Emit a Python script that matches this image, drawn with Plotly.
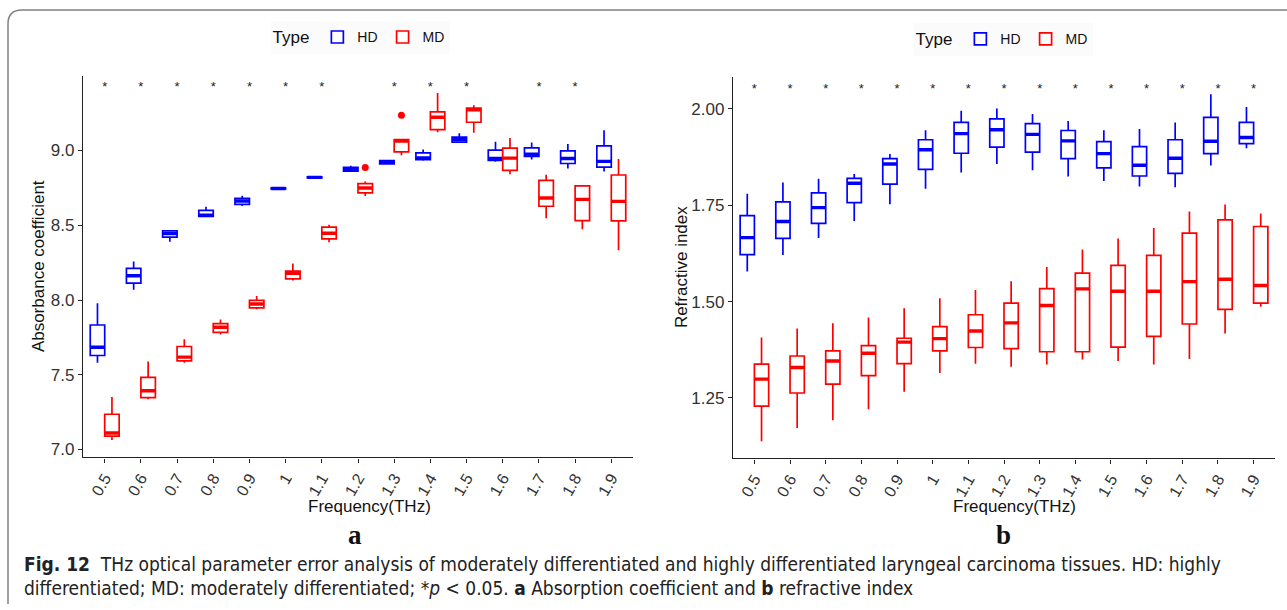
import plotly.graph_objects as go

W, H = 1287, 610

freqs = ["0.5", "0.6", "0.7", "0.8", "0.9", "1", "1.1", "1.2", "1.3", "1.4",
         "1.5", "1.6", "1.7", "1.8", "1.9"]

# ---- Panel a: absorbance coefficient  (lower whisker, q1, median, q3, upper whisker)
abs_hd_low = [7.580, 8.069, 8.389, 8.555, 8.629, 8.742, 8.816, 8.858, 8.904, 8.931, 9.053, 8.924, 8.940, 8.880, 8.860]
abs_hd_q1  = [7.629, 8.113, 8.420, 8.560, 8.640, 8.743, 8.817, 8.862, 8.911, 8.938, 9.056, 8.933, 8.960, 8.913, 8.889]
abs_hd_med = [7.684, 8.162, 8.444, 8.568, 8.662, 8.746, 8.820, 8.873, 8.922, 8.951, 9.073, 8.947, 8.975, 8.947, 8.927]
abs_hd_q3  = [7.833, 8.211, 8.462, 8.600, 8.680, 8.749, 8.823, 8.887, 8.933, 8.984, 9.089, 9.002, 9.018, 8.998, 9.031]
abs_hd_high = [7.978, 8.258, 8.469, 8.624, 8.698, 8.751, 8.825, 8.898, 8.936, 9.007, 9.116, 9.058, 9.053, 9.044, 9.136]

abs_md_low = [7.064, 7.336, 7.580, 7.769, 7.938, 8.131, 8.387, 8.696, 8.969, 9.122, 9.118, 8.842, 8.547, 8.473, 8.333]
abs_md_q1  = [7.089, 7.347, 7.593, 7.784, 7.947, 8.142, 8.409, 8.716, 8.991, 9.140, 9.189, 8.867, 8.627, 8.531, 8.529]
abs_md_med = [7.111, 7.393, 7.618, 7.818, 7.973, 8.178, 8.447, 8.749, 9.064, 9.222, 9.273, 8.949, 8.682, 8.673, 8.660]
abs_md_q3  = [7.236, 7.482, 7.689, 7.842, 7.998, 8.193, 8.487, 8.778, 9.073, 9.258, 9.284, 9.016, 8.800, 8.764, 8.836]
abs_md_high = [7.351, 7.589, 7.738, 7.869, 8.027, 8.244, 8.504, 8.793, 9.076, 9.384, 9.302, 9.084, 8.838, 8.767, 8.944]

abs_md_outlier_freq = ["1.2", "1.3"]
abs_md_outlier_val = [8.887, 9.236]

abs_sig = ["0.5", "0.6", "0.7", "0.8", "0.9", "1", "1.1", "1.3", "1.4", "1.5", "1.7", "1.8"]
abs_star_y = 9.42

# ---- Panel b: refractive index
ri_hd_low = [1.578, 1.621, 1.665, 1.709, 1.753, 1.793, 1.835, 1.857, 1.841, 1.825, 1.813, 1.799, 1.797, 1.853, 1.898]
ri_hd_q1  = [1.622, 1.664, 1.703, 1.757, 1.805, 1.843, 1.885, 1.901, 1.888, 1.871, 1.847, 1.826, 1.833, 1.884, 1.910]
ri_hd_med = [1.666, 1.708, 1.744, 1.807, 1.857, 1.894, 1.936, 1.946, 1.934, 1.917, 1.884, 1.854, 1.872, 1.916, 1.926]
ri_hd_q3  = [1.723, 1.759, 1.782, 1.820, 1.871, 1.920, 1.965, 1.974, 1.962, 1.944, 1.915, 1.902, 1.920, 1.978, 1.965]
ri_hd_high = [1.780, 1.809, 1.819, 1.831, 1.883, 1.945, 1.995, 2.001, 1.987, 1.969, 1.945, 1.948, 1.965, 2.038, 2.005]

ri_md_low = [1.138, 1.172, 1.192, 1.221, 1.266, 1.315, 1.339, 1.331, 1.337, 1.350, 1.346, 1.337, 1.351, 1.417, 1.487]
ri_md_q1  = [1.229, 1.263, 1.286, 1.308, 1.339, 1.372, 1.381, 1.378, 1.370, 1.370, 1.382, 1.410, 1.442, 1.480, 1.496]
ri_md_med = [1.299, 1.329, 1.346, 1.366, 1.395, 1.404, 1.424, 1.445, 1.490, 1.533, 1.527, 1.527, 1.552, 1.558, 1.542]
ri_md_q3  = [1.338, 1.359, 1.372, 1.386, 1.405, 1.435, 1.466, 1.496, 1.534, 1.574, 1.594, 1.620, 1.678, 1.712, 1.695]
ri_md_high = [1.407, 1.430, 1.444, 1.459, 1.483, 1.509, 1.530, 1.553, 1.590, 1.635, 1.664, 1.691, 1.734, 1.752, 1.729]

ri_sig = freqs[:]
ri_star_y = 2.051

HD_COLOR = "#0000FF"
MD_COLOR = "#FF0000"
FONT = "Liberation Sans, Arial, sans-serif"
CAPTION_FONT = "Liberation Sans Narrow, Arial Narrow, DejaVu Sans Condensed, sans-serif"


def px(x):
    return x / W


def py(y):
    return 1 - y / H


fig = go.Figure()


def add_series(xa, ya, low, q1, med, q3, high, color, name, offset, legend):
    xs = [i + offset for i in range(len(freqs))]
    fig.add_trace(go.Box(
        x=xs, q1=q1, median=med, q3=q3, lowerfence=low, upperfence=high,
        orientation="v", width=0.4, whiskerwidth=0, boxpoints=False,
        line=dict(color=color, width=1.7), fillcolor="white",
        name=name, legend=legend, showlegend=True,
        xaxis=xa, yaxis=ya, hoverinfo="skip"))
    # thick median bar (ggplot "fatten")
    fig.add_trace(go.Box(
        x=xs, q1=med, median=med, q3=med, lowerfence=med, upperfence=med,
        orientation="v", width=0.4, whiskerwidth=0, boxpoints=False,
        line=dict(color=color, width=3.4), fillcolor=color,
        showlegend=False, xaxis=xa, yaxis=ya, hoverinfo="skip"))


add_series("x", "y", abs_hd_low, abs_hd_q1, abs_hd_med, abs_hd_q3, abs_hd_high, HD_COLOR, "HD", -0.2, "legend")
add_series("x", "y", abs_md_low, abs_md_q1, abs_md_med, abs_md_q3, abs_md_high, MD_COLOR, "MD", 0.2, "legend")
add_series("x2", "y2", ri_hd_low, ri_hd_q1, ri_hd_med, ri_hd_q3, ri_hd_high, HD_COLOR, "HD", -0.2, "legend2")
add_series("x2", "y2", ri_md_low, ri_md_q1, ri_md_med, ri_md_q3, ri_md_high, MD_COLOR, "MD", 0.2, "legend2")

# outliers
fig.add_trace(go.Scatter(
    x=[freqs.index(f) + 0.2 for f in abs_md_outlier_freq], y=abs_md_outlier_val,
    mode="markers", marker=dict(color=MD_COLOR, size=7), showlegend=False,
    xaxis="x", yaxis="y", hoverinfo="skip"))

# significance stars
fig.add_trace(go.Scatter(
    x=[freqs.index(f) for f in abs_sig], y=[abs_star_y] * len(abs_sig),
    mode="text", text=["*"] * len(abs_sig),
    textfont=dict(size=13, color="#222222", family=FONT),
    showlegend=False, xaxis="x", yaxis="y", hoverinfo="skip"))
fig.add_trace(go.Scatter(
    x=[freqs.index(f) for f in ri_sig], y=[ri_star_y] * len(ri_sig),
    mode="text", text=["*"] * len(ri_sig),
    textfont=dict(size=13, color="#222222", family=FONT),
    showlegend=False, xaxis="x2", yaxis="y2", hoverinfo="skip"))

xcommon = dict(
    range=[-0.6, 14.6], tickmode="array", tickvals=list(range(len(freqs))), ticktext=freqs,
    tickangle=-60, ticks="outside", ticklen=4, tickwidth=1.2, tickcolor="#222",
    showline=True, linecolor="#222", linewidth=1.4, showgrid=False, zeroline=False,
    tickfont=dict(size=16, color="#333", family=FONT))
ycommon = dict(
    ticks="outside", ticklen=4, tickwidth=1.2, tickcolor="#222",
    showline=True, linecolor="#222", linewidth=1.4, showgrid=False, zeroline=False,
    tickfont=dict(size=17, color="#333", family=FONT))

fig.update_layout(
    width=W, height=H, margin=dict(l=0, r=0, t=0, b=0),
    paper_bgcolor="white", plot_bgcolor="white",
    font=dict(family=FONT, color="#111"),
    xaxis=dict(domain=[px(83), px(633)], anchor="y", **xcommon),
    yaxis=dict(domain=[py(459), py(76)], anchor="x", range=[6.9467, 9.5],
               tickmode="array", tickvals=[7.0, 7.5, 8.0, 8.5, 9.0],
               ticktext=["7.0", "7.5", "8.0", "8.5", "9.0"], **ycommon),
    xaxis2=dict(domain=[px(733), px(1275)], anchor="y2", **xcommon),
    yaxis2=dict(domain=[py(460), py(77)], anchor="x2", range=[1.093, 2.0835],
                tickmode="array", tickvals=[1.25, 1.50, 1.75, 2.00],
                ticktext=["1.25", "1.50", "1.75", "2.00"], **ycommon),
    legend=dict(orientation="h", x=px(360), y=py(38), xanchor="center", yanchor="middle",
                title=dict(text="Type", side="left", font=dict(size=17, color="#111")),
                font=dict(size=14, color="#111"), bgcolor="#fbfbfb", itemwidth=30),
    legend2=dict(orientation="h", x=px(1003), y=py(40), xanchor="center", yanchor="middle",
                 title=dict(text="Type", side="left", font=dict(size=17, color="#111")),
                 font=dict(size=14, color="#111"), bgcolor="#fbfbfb", itemwidth=30),
)


def ann(text, x, y, size, angle=0, xanchor="center", family=None, color="#111"):
    f = dict(size=size, color=color)
    if family:
        f["family"] = family
    return dict(text=text, x=px(x), y=py(y), xref="paper", yref="paper",
                xanchor=xanchor, yanchor="middle", textangle=angle,
                showarrow=False, font=f)


annotations = [
    ann("Absorbance coefficient", 38, 267, 17, angle=-90),
    ann("Refractive index", 681, 268, 17, angle=-90),
    ann("Frequency(THz)", 369, 508, 17),
    ann("Frequency(THz)", 1014, 508, 17),
    ann("<b>a</b>", 355, 537, 27, family="Liberation Serif, Times New Roman, serif"),
    ann("<b>b</b>", 1003, 537, 27, family="Liberation Serif, Times New Roman, serif"),
    ann("<b>Fig. 12</b>  THz optical parameter error analysis of moderately differentiated and highly differentiated laryngeal carcinoma tissues. HD: highly",
        22, 566, 19, xanchor="left", family=CAPTION_FONT, color="#222"),
    ann("differentiated; MD: moderately differentiated; *<i>p</i> &lt; 0.05. <b>a</b> Absorption coefficient and <b>b</b> refractive index",
        22, 590, 19, xanchor="left", family=CAPTION_FONT, color="#222"),
]
fig.update_layout(annotations=annotations)

fig.update_layout(shapes=[
    dict(type="path", xref="paper", yref="paper",
         path=f"M {px(8)},{py(606)} L {px(8)},{py(24)} Q {px(8)},{py(10)} {px(22)},{py(10)} L {px(1287)},{py(10)}",
         line=dict(color="#808080", width=1.5)),
])

fig.write_html("out.html")
